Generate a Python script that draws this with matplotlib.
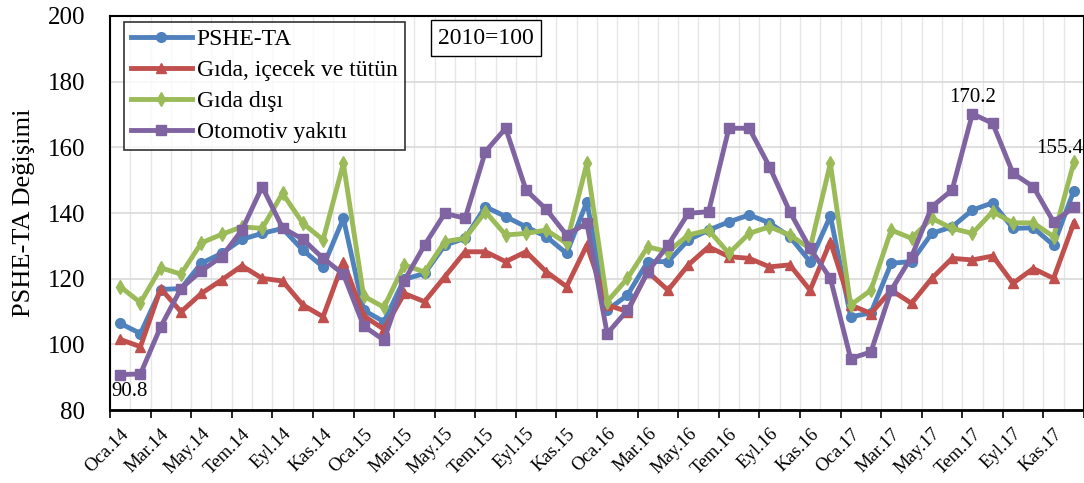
import matplotlib
matplotlib.use("Agg")
import matplotlib.pyplot as plt
import numpy as np

plt.rcParams['font.family'] = ['Liberation Serif', 'DejaVu Serif']

months = ["Oca", "Şub", "Mar", "Nis", "May", "Haz", "Tem", "Ağu", "Eyl", "Eki", "Kas", "Ara"]
years = ["14", "15", "16", "17"]
labels = [m + "." + y for y in years for m in months]

pshe_ta = [106.4, 103.3, 116.7, 117.0, 124.7, 127.7, 132.0, 133.8, 135.3, 128.7, 123.6, 138.4,
           110.4, 106.9, 119.8, 121.6, 130.2, 132.3, 141.9, 138.9, 135.8, 132.8, 127.7, 143.4,
           110.4, 115.0, 125.2, 125.2, 131.8, 134.8, 137.3, 139.4, 137.0, 132.8, 125.2, 139.1,
           108.4, 109.6, 124.7, 125.2, 133.8, 135.8, 140.9, 143.1, 135.3, 135.5, 130.2, 146.8]
gida = [101.5, 99.3, 117.0, 109.9, 115.5, 119.6, 123.9, 120.1, 119.3, 112.0, 108.4, 125.2,
        108.7, 104.6, 115.5, 113.0, 120.6, 128.2, 128.2, 125.2, 128.2, 122.1, 117.6, 130.2,
        112.0, 110.0, 122.1, 116.5, 124.2, 129.7, 126.7, 126.2, 123.6, 124.2, 116.5, 131.3,
        112.0, 109.4, 116.5, 112.5, 120.1, 126.2, 125.7, 126.9, 118.6, 123.1, 120.1, 137.0]
gida_disi = [117.6, 112.7, 123.3, 121.4, 130.9, 133.5, 135.8, 135.3, 146.0, 136.9, 131.8, 155.1,
             114.7, 111.3, 124.2, 122.0, 131.3, 132.3, 140.4, 133.3, 133.8, 134.8, 130.8, 155.1,
             113.0, 120.1, 129.7, 128.2, 133.3, 134.8, 127.7, 133.8, 135.8, 133.3, 129.2, 155.1,
             112.0, 116.5, 134.8, 132.3, 138.4, 135.3, 133.8, 140.4, 137.0, 137.0, 132.8, 155.4]
otomotiv = [90.8, 91.0, 105.4, 117.0, 122.4, 126.7, 134.8, 148.0, 135.5, 132.0, 126.2, 121.4,
            105.6, 101.3, 119.4, 130.2, 139.9, 138.4, 158.7, 165.8, 147.0, 141.1, 133.3, 136.9,
            103.3, 110.4, 122.1, 130.2, 139.9, 140.4, 165.8, 165.8, 154.1, 140.4, 129.2, 120.1,
            95.7, 97.7, 116.5, 126.7, 141.9, 147.0, 170.2, 167.3, 152.1, 148.0, 137.3, 141.7]

x = np.arange(len(labels))

fig = plt.figure(figsize=(10.84, 4.83), dpi=100)
ax = fig.add_axes([0.1015, 0.151, 0.8985, 0.816])

ax.plot(x, pshe_ta, color="#4F81BD", lw=3.5, marker="o", ms=7, label="PSHE-TA")
ax.plot(x, gida, color="#C0504D", lw=3.5, marker="^", ms=7, label="Gıda, içecek ve tütün")
ax.plot(x, gida_disi, color="#9BBB59", lw=3.5, marker="d", ms=7, label="Gıda dışı")
ax.plot(x, otomotiv, color="#8064A2", lw=3.5, marker="s", ms=6.5, label="Otomotiv yakıtı")

ax.set_xlim(-0.5, len(labels) - 0.5)
ax.set_ylim(80, 200)
ax.set_yticks(range(80, 201, 20))
ax.tick_params(axis="y", labelsize=18, length=0, pad=18)

ax.set_xticks(x[::2])
ax.set_xticklabels(labels[::2], rotation=45, ha="right", rotation_mode="anchor", fontsize=13.5)
ax.tick_params(axis="x", which="major", length=0, pad=11)
ax.set_xticks(np.arange(-0.5, len(labels), 1), minor=True)
ax.tick_params(axis="x", which="minor", length=0)
ax.grid(axis="x", which="minor", color="#E6E6E6", lw=1)
ax.grid(axis="y", which="major", color="#D9D9D9", lw=1.2)
ax.set_axisbelow(True)

sec = ax.secondary_xaxis("bottom")
sec.set_xticks(np.arange(-0.5, len(labels), 2))
sec.set_xticklabels([])
sec.tick_params(length=6, width=1.2, direction="out")

for s in ax.spines.values():
    s.set_color("black")
    s.set_linewidth(1.5)
ax.spines["bottom"].set_linewidth(2)

ax.set_ylabel("PSHE-TA Değişimi", fontsize=19, labelpad=9)

leg = ax.legend(loc="upper left", bbox_to_anchor=(0.014, 0.985), fontsize=17, frameon=True,
                fancybox=False, edgecolor="black", handlelength=2.6, borderpad=0.3,
                labelspacing=0.4, handletextpad=0.2, borderaxespad=0)
leg.get_frame().set_linewidth(1.2)

ax.text(0.337, 0.944, "2010=100", transform=ax.transAxes, fontsize=17, va="center",
        bbox=dict(boxstyle="square,pad=0.3", fc="white", ec="black", lw=1))

ax.annotate("90.8", (x[0], otomotiv[0]), xytext=(-6, -5), textcoords="offset points",
            ha="left", va="top", fontsize=15)
ax.annotate("170.2", (x[42], otomotiv[42]), xytext=(0, 5), textcoords="offset points",
            ha="center", va="bottom", fontsize=15)
ax.annotate("155.4", (x[47], gida_disi[47]), xytext=(-10, 3), textcoords="offset points",
            ha="center", va="bottom", fontsize=15)

fig.savefig("out.png", dpi=100)
